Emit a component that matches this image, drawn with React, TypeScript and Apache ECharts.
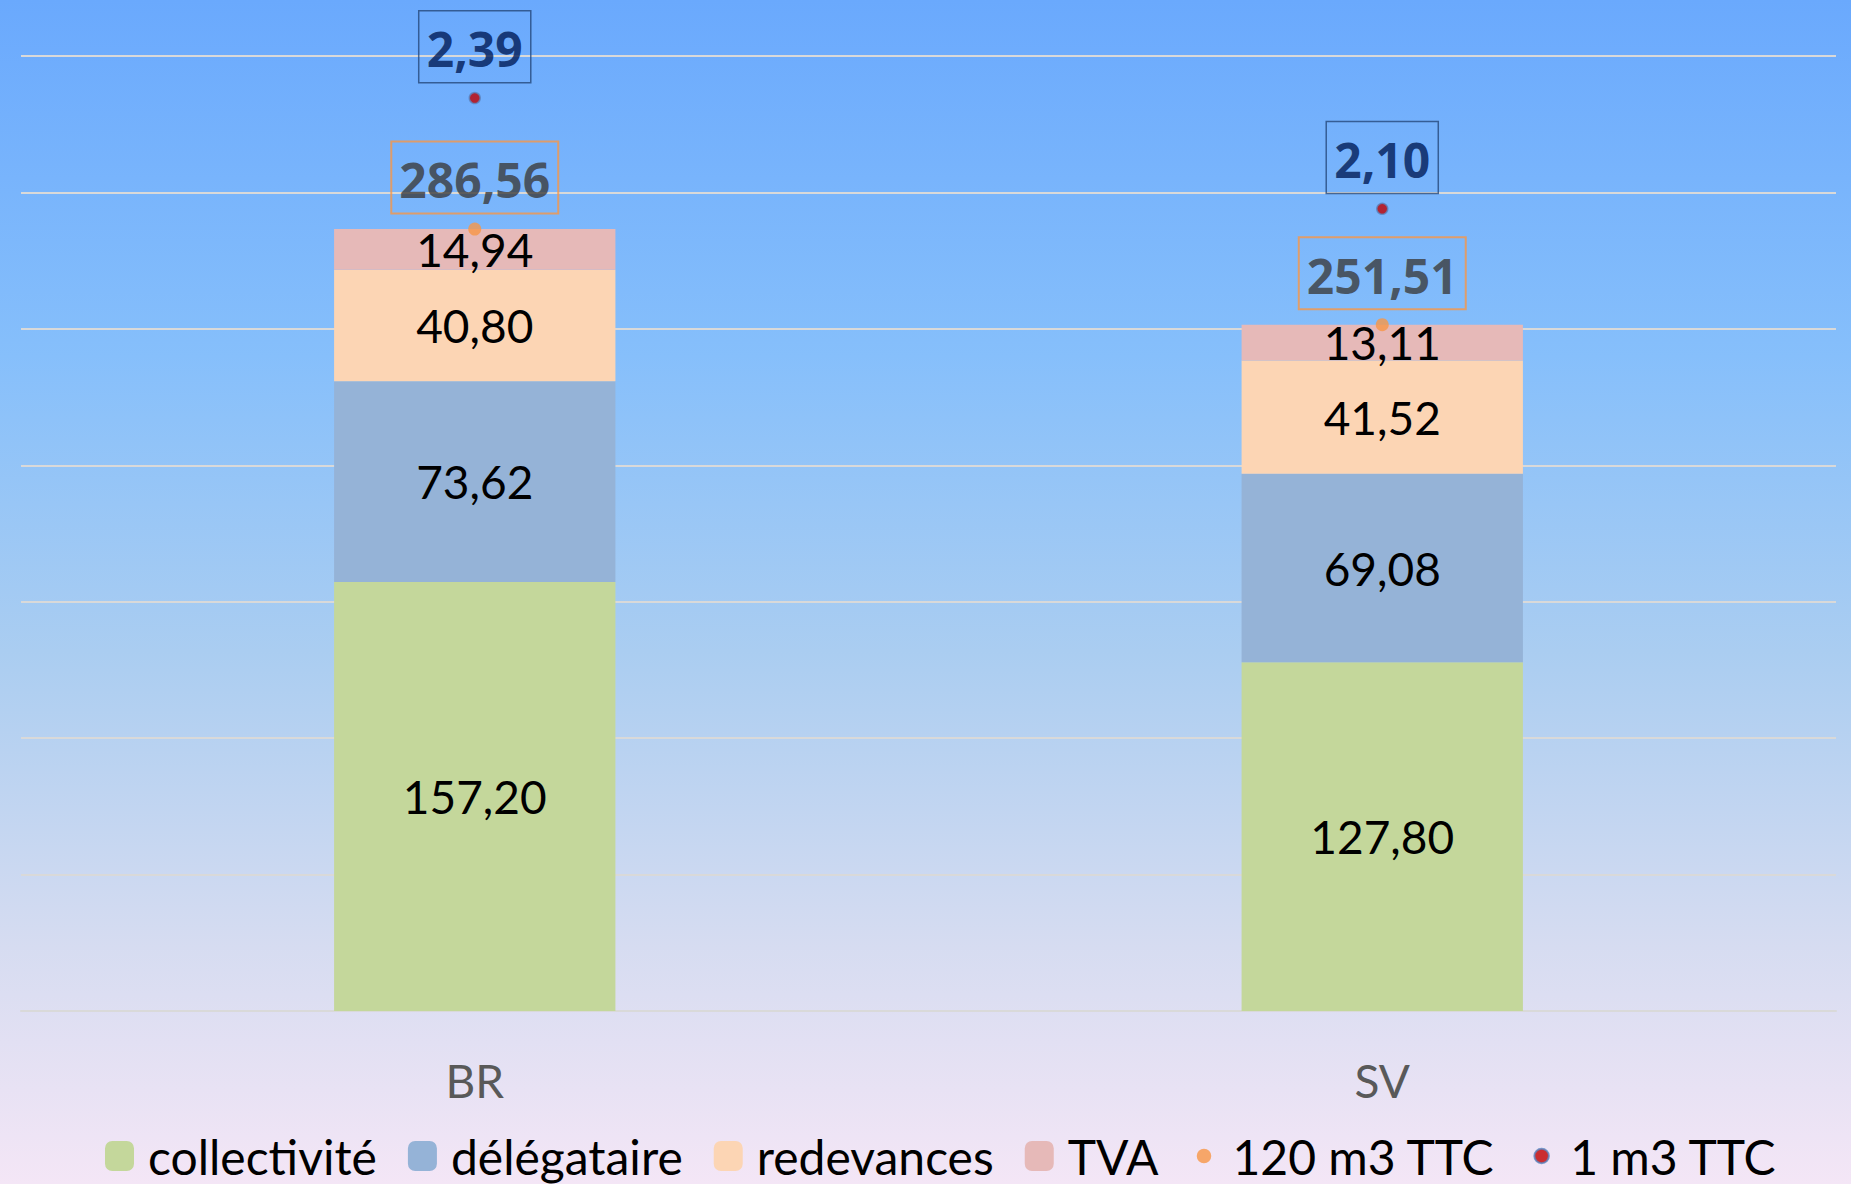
import React, { useEffect, useRef } from "react";
import * as echarts from "echarts";

const categories = ["BR", "SV"];
const collectivite = [157.2, 127.8];
const delegataire = [73.62, 69.08];
const redevances = [40.8, 41.52];
const tva = [14.94, 13.11];
const ttc120 = [286.56, 251.51];
const ttc1 = [2.39, 2.1];

const FONT = "Lato";
const BOLD_FONT = "Noto Sans";
const fmt = (v: number) => v.toFixed(2).replace(".", ",");

export default function App() {
  const ref = useRef<HTMLDivElement>(null);
  useEffect(() => {
    document.body.style.margin = "0";
    const chart = echarts.init(ref.current!, null, { renderer: "svg" });
    const barLabel = {
      show: true,
      position: "inside",
      color: "#000",
      fontSize: 46,
      fontFamily: FONT,
      formatter: (p: any) => fmt(p.value),
    };
    const mk = (name: string, data: number[], color: string) => ({
      name,
      type: "bar",
      stack: "total",
      data,
      barWidth: "31%",
      itemStyle: { color },
      label: barLabel,
    });
    const dotIcon =
      "path://M0,0M30,30M15,7.5A7.5,7.5 0 1 1 15,22.5A7.5,7.5 0 1 1 15,7.5Z";
    chart.setOption({
      animation: false,
      textStyle: { fontFamily: FONT },
      grid: { left: 21, right: 15, top: 56, bottom: 173 },
      xAxis: {
        type: "category",
        data: categories,
        axisLine: { lineStyle: { color: "#d9d9d9", width: 2 } },
        axisTick: { show: false },
        axisLabel: { color: "#595959", fontSize: 46, fontFamily: FONT, margin: 46 },
      },
      yAxis: [
        {
          type: "value",
          min: 0,
          max: 350,
          interval: 50,
          axisLabel: { show: false },
          axisLine: { show: false },
          splitLine: { lineStyle: { color: "#d9d9d9", width: 2 } },
        },
        {
          type: "value",
          min: 0,
          max: 2.5,
          interval: 0.5,
          axisLabel: { show: false },
          axisLine: { show: false },
          splitLine: { show: false },
        },
      ],
      legend: {
        left: 100,
        top: 1127,
        itemWidth: 29,
        itemHeight: 30,
        itemGap: 31,
        textStyle: { color: "#000", fontSize: 48, fontFamily: FONT, padding: [0, 0, 0, 9] },
        data: [
          { name: "collectivité" },
          { name: "délégataire" },
          { name: "redevances" },
          { name: "TVA" },
          { name: "120 m3 TTC", icon: dotIcon },
          { name: "1 m3 TTC", icon: dotIcon },
        ],
      },
      series: [
        mk("collectivité", collectivite, "#c4d79b"),
        mk("délégataire", delegataire, "#95b3d7"),
        mk("redevances", redevances, "#fcd5b4"),
        mk("TVA", tva, "#e6b9b8"),
        {
          name: "120 m3 TTC",
          type: "scatter",
          yAxisIndex: 0,
          data: ttc120,
          symbolSize: 13,
          itemStyle: { color: "#f79646" },
          z: 5,
          label: {
            show: true,
            position: "top",
            distance: 9,
            color: "#3a3a3a",
            fontWeight: "bold",
            fontSize: 48,
            fontFamily: BOLD_FONT,
            borderColor: "#f79646",
            borderWidth: 2,
            padding: [14, 8, 10, 8],
            formatter: (p: any) => fmt(p.value),
          },
        },
        {
          name: "1 m3 TTC",
          type: "scatter",
          yAxisIndex: 1,
          data: ttc1,
          symbolSize: 11,
          itemStyle: { color: "#c00000", borderColor: "#5a86c0", borderWidth: 1.5 },
          z: 5,
          label: {
            show: true,
            position: "top",
            distance: 9,
            color: "#001a55",
            fontWeight: "bold",
            fontSize: 48,
            fontFamily: BOLD_FONT,
            borderColor: "#25497a",
            borderWidth: 1.5,
            padding: [14, 8, 10, 8],
            formatter: (p: any) => fmt(p.value),
          },
        },
      ],
    });
    return () => chart.dispose();
  }, []);
  return (
    <div
      ref={ref}
      style={{
        width: 1851,
        height: 1184,
        background:
          "linear-gradient(180deg, #6aa9fd 0%, #86bffb 30%, #aacdf1 55%, #d6dcf1 80%, #f4e6f6 100%)",
      }}
    />
  );
}
